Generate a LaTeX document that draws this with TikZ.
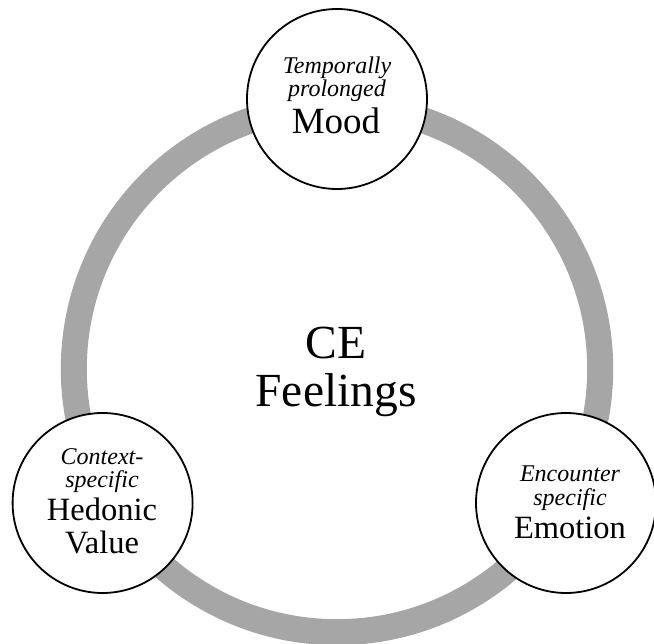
\documentclass[tikz,border=0pt]{standalone}
\usepackage{fontspec}
\setmainfont{Liberation Serif}
\definecolor{ringgrey}{HTML}{A6A6A6}
\tikzset{
  ring/.style={draw=ringgrey, line width=26pt},
  bubble/.style={circle, draw=black, line width=1.8pt, fill=white, minimum size=180pt, inner sep=0pt},
  small/.style={anchor=base, inner sep=0pt, font=\fontsize{24}{24}\selectfont\itshape},
  big/.style={anchor=base, inner sep=0pt, font=\fontsize{32.5}{33}\selectfont},
  bigger/.style={anchor=base, inner sep=0pt, font=\fontsize{37}{37}\selectfont},
  huge/.style={anchor=base, inner sep=0pt, font=\fontsize{47.5}{47}\selectfont}
}
\begin{document}
\begin{tikzpicture}[x=1pt, y=-1pt]
\useasboundingbox (0,0) rectangle (654,644);
\fill[white] (0,0) rectangle (654,644);
\coordinate (c) at (337,369);
\draw[ring] (c) circle (263.2);
\node[bubble] (mood) at (337,99) {};
\node[bubble] (hed) at (102.6,503) {};
\node[bubble] (emo) at (566,503) {};
\node[small] (t1) at (337,74) {Temporally};
\node[small] (t2) at (337,97) {prolonged};
\node[bigger] (t3) at (336,134) {Mood};
\node[small] (h1) at (102,465) {Context-};
\node[small] (h2) at (102,488) {specific};
\node[big] (h3) at (102,521) {Hedonic};
\node[big] (h4) at (102,553) {Value};
\node[small] (e1) at (570,482) {Encounter};
\node[small] (e2) at (570,506) {specific};
\node[big] (e3) at (570,538) {Emotion};
\node[huge] (ce1) at (336,359) {CE};
\node[huge] (ce2) at (336,407) {Feelings};
\end{tikzpicture}
\end{document}
